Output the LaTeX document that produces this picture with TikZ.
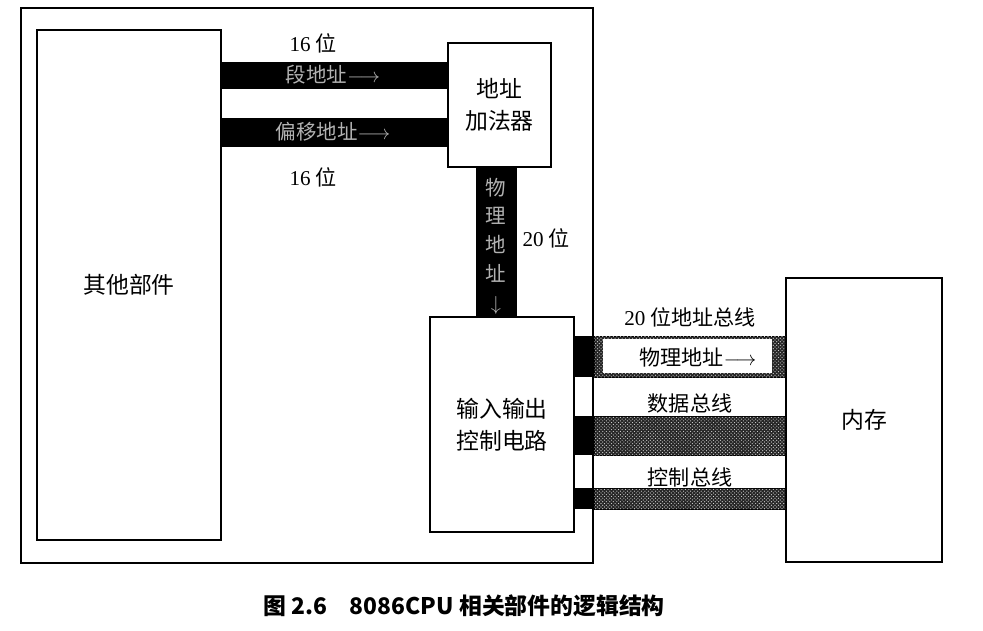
\documentclass[tikz,border=0pt]{standalone}
\usepackage{fontspec}
\setmainfont{Liberation Serif}
\newfontfamily\cjk{Noto Sans CJK SC}
\usetikzlibrary{fit,patterns}

\tikzset{
  box/.style={draw, line width=1.3pt, inner sep=0pt},
  txt/.style={font=\cjk\fontsize{19.5}{27}\selectfont, align=center},
  lbl/.style={font=\cjk\fontsize{18}{20}\selectfont},
  bustxt/.style={font=\cjk\fontsize{17.5}{24.5}\selectfont, text=black!30, inner sep=0pt},
  hatchbus/.style={fill=black!85, draw=black, line width=0.8pt,
    postaction={pattern=crosshatch dots, pattern color=white!85!black}}
}

\begin{document}
\begin{tikzpicture}[x=0.03cm, y=-0.03cm]
\useasboundingbox (0,0) rectangle (983,630);
% boxes
\node[box, line width=2pt, fit={(21,8) (593,563)}] (cpu) {};
\node[box, fit={(37,30) (221,540)}] (others) {};
\node[box, fill=white, fit={(448,43) (551,167)}] (adder) {};
\node[box, fit={(430,317) (574,532)}] (io) {};
\node[box, fit={(786,278) (942,562)}] (mem) {};
\node[txt] at (others) {其他部件};
\node[txt] at (adder) {地址\\加法器};
\node[txt] at (io) {输入输出\\控制电路};
\node[txt] at (mem) {内存};
% internal buses
\fill (others.east |- 0,62) rectangle (adder.west |- 0,89);
\fill (others.east |- 0,118) rectangle (adder.west |- 0,147);
\fill (476,0 |- adder.south) rectangle (517,0 |- io.north);
\node[bustxt] at (333,75) {段地址$\longrightarrow$};
\node[bustxt] at (333,132) {偏移地址$\longrightarrow$};
\node[bustxt, align=center] at (496,246) {物\\理\\地\\址\\$\downarrow$};
\node[lbl] at (313,43) {{\rmfamily 16} 位};
\node[lbl] at (313,177) {{\rmfamily 16} 位};
\node[lbl] at (546,238) {{\rmfamily 20} 位};
% system buses
\foreach \ya/\yb in {336/377, 416/455, 488/509} {
  \fill (io.east |- 0,\ya) rectangle (cpu.east |- 0,\yb);
  \path[hatchbus] (cpu.east |- 0,\ya) rectangle (mem.west |- 0,\yb);
}
\fill[white] (603,339) rectangle (772,373);
\node[lbl] at (698,357) {物理地址$\longrightarrow$};
\node[lbl] at (690,317) {{\rmfamily 20} 位地址总线};
\node[lbl] at (690,403) {数据总线};
\node[lbl] at (690,477) {控制总线};
% caption
\node[font=\cjk\bfseries\fontsize{19.5}{22}\selectfont] (caption) at (464,606) {图 2.6\quad 8086CPU 相关部件的逻辑结构};
\end{tikzpicture}
\end{document}
